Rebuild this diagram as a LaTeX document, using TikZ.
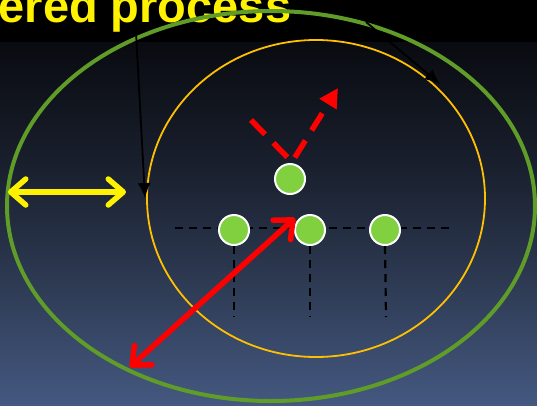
\documentclass[tikz,border=0pt]{standalone}
\usepackage{fontspec}
\setmainfont{Liberation Sans}
\usetikzlibrary{arrows.meta}
\definecolor{ringgreen}{RGB}{96,156,40}
\definecolor{ringgold}{RGB}{255,192,0}
\definecolor{dotgreen}{RGB}{128,208,64}
% night-sky backdrop, dark at the top and slate blue at the foot
\pgfdeclareverticalshading{nightsky}{100bp}{
  rgb(0bp)=(0.267,0.345,0.502);
  rgb(25bp)=(0.267,0.345,0.502);
  rgb(41.5bp)=(0.180,0.231,0.329);
  rgb(58bp)=(0.098,0.122,0.176);
  rgb(75bp)=(0.035,0.043,0.063);
  rgb(100bp)=(0.035,0.043,0.063)}
\tikzset{
  dot/.style={circle, fill=dotgreen, draw=white, line width=2pt, minimum size=30pt, inner sep=0pt},
  guide/.style={black, line width=2.2pt, dash pattern=on 8pt off 6pt},
  pointer/.style={black, line width=1.8pt, -{Latex[length=15pt,width=13pt]}},
  span/.style={line width=5.5pt, {Straight Barb[round,length=15pt,width=26pt]}-{Straight Barb[round,length=15pt,width=26pt]}},
  move/.style={red, line width=5.5pt, dash pattern=on 20pt off 12pt, -{Triangle[length=19pt,width=19pt]}}
}
\begin{document}
\begin{tikzpicture}[x=1pt,y=-1pt]
\useasboundingbox (0,0) rectangle (537,405);
% backdrop
\fill[black] (0,0) rectangle (537,43);
\shade[shading=nightsky] (0,42) rectangle (537,405);
% heading
\node[anchor=base west, inner sep=0pt, text=yellow, font=\bfseries\fontsize{47}{50}\selectfont] (title) at (-1.5,22) {ered process};
% rings
\draw[ringgreen, line width=4pt] (271,206) ellipse [x radius=264, y radius=195];
\draw[ringgold, line width=1.8pt] (316,198.5) ellipse [x radius=169, y radius=158.5];
% grid guides
\coordinate (hl) at (175,228);
\coordinate (hr) at (450,228);
\draw[guide] (hl) -- (hr);
\node[dot] (d1) at (234,230) {};
\node[dot] (d2) at (310,230) {};
\node[dot] (d3) at (385,230) {};
\node[dot] (top) at (290,179) {};
\coordinate (b1) at (234,317);
\coordinate (b2) at (310,317);
\coordinate (b3) at (386,317);
\draw[guide] (d1.south) -- (b1);
\draw[guide] (d2.south) -- (b2);
\draw[guide] (d3.south) -- (b3);
% pointers
\coordinate (p1s) at (136,32);
\coordinate (p1e) at (145,198);
\draw[pointer] (p1s) -- (p1e);
\coordinate (p2s) at (366,22);
\coordinate (p2e) at (440,84);
\draw[pointer] (p2s) -- (p2e);
% spans
\coordinate (ya) at (8,192);
\coordinate (yb) at (126,192);
\draw[span, yellow] (ya) -- (yb);
\coordinate (ra) at (130,367);
\coordinate (rb) at (295,218);
\draw[span, red] (ra) -- (rb);
% bounce
\coordinate (m0) at (251,120);
\coordinate (m1) at (292,162);
\coordinate (m2) at (338,88);
\draw[move] (m0) -- (m1) -- (m2);
\end{tikzpicture}
\end{document}
